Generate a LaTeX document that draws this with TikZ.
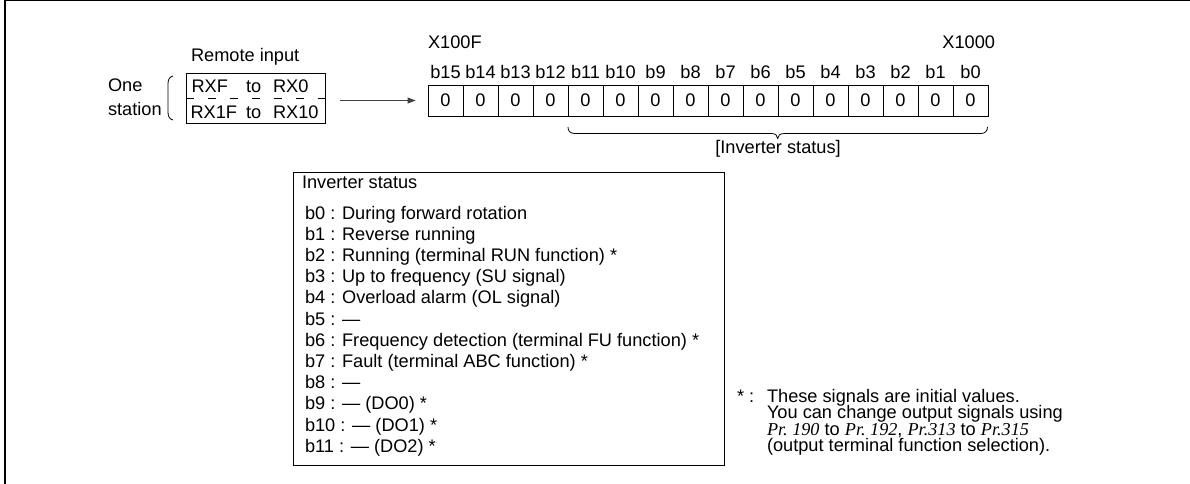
\documentclass[tikz,border=0pt]{standalone}
\usepackage{fontspec}
\setmainfont{Liberation Sans}
\newfontfamily\prfont{Liberation Serif}
\usetikzlibrary{arrows.meta}
\begin{document}
\begin{tikzpicture}[x=1pt,y=-1pt,
  font=\fontsize{18.2}{21}\selectfont,
  txt/.style={inner sep=0pt, outer sep=0pt},
  cellbox/.style={draw, line width=0.9pt, minimum width=35pt, minimum height=31pt, inner sep=0pt},
  framebox/.style={draw, line width=0.9pt, inner sep=0pt},
  arr/.style={draw=black!75, line width=0.9pt, -{Triangle[length=8pt,width=6pt]}}]
\useasboundingbox (0,0) rectangle (1190,484);
% outer frame
\draw[line width=2pt] (5,0) -- (5,484);
\draw[line width=1.2pt] (4,0.6) -- (1190,0.6);

% remote input
\node[txt, anchor=base west] (remote) at (191,62) {Remote input};
\node[txt, anchor=base west] (one) at (108,91.7) {One};
\node[txt, anchor=base west] (station) at (108,115) {station};
\draw[line width=0.8pt] (173,76) .. controls (169,77) and (168,80) .. (168,84) -- (168,112) .. controls (168,116) and (169,119) .. (173,120);
\node[framebox, minimum width=139.5pt, minimum height=50pt] (box) at (255.75,98.5) {};
\draw[line width=0.9pt, dash pattern=on 8pt off 14pt] (box.west) -- (box.east);
\node[txt, anchor=base west] (r1a) at (191.5,92.3) {RXF};
\node[txt, anchor=base west] (r1b) at (246,92.3) {to};
\node[txt, anchor=base west] (r1c) at (273,92.3) {RX0};
\node[txt, anchor=base west] (r2a) at (190.5,118.3) {RX1F};
\node[txt, anchor=base west] (r2b) at (246,118.3) {to};
\node[txt, anchor=base west] (r2c) at (273,118.3) {RX10};

% bit row
\foreach \i in {0,...,15}{
  \pgfmathtruncatemacro\bit{15-\i}
  \node[cellbox] (c\i) at (445.5+35*\i,100.5) {0};
  \node[txt, anchor=base] (l\i) at (445.5+35*\i,79) {b\bit};
}
\node[txt, anchor=base west] (xf) at (428,49) {X100F};
\node[txt, anchor=base east] (x0) at (995,49) {X1000};
\draw[arr, shorten <=14.5pt, shorten >=12pt] (box.east |- c0.west) -- (c0.west);

% brace
\draw[line width=0.8pt] (568,127) .. controls (568,131) and (570,133.5) .. (575,133.5) -- (771,133.5) .. controls (775.5,133.5) and (777.7,135.5) .. (777.7,138.5) .. controls (777.7,135.5) and (780,133.5) .. (784.5,133.5) -- (981,133.5) .. controls (985,133.5) and (987.5,131) .. (987.5,127);
\node[txt, anchor=base] (invlbl) at (778,153) {[Inverter status]};

% inverter status box
\node[framebox, minimum width=431pt, minimum height=293pt] (inv) at (508.5,318.5) {};
\node[txt, anchor=base west] (invh) at (302,188.5) {Inverter status};
\foreach \t [count=\k from 0] in {
  {b0 : During forward rotation},
  {b1 : Reverse running},
  {b2 : Running (terminal RUN function) *},
  {b3 : Up to frequency (SU signal)},
  {b4 : Overload alarm (OL signal)},
  {b5 : —},
  {b6 : Frequency detection (terminal FU function) *},
  {b7 : Fault (terminal ABC function) *},
  {b8 : —},
  {b9 : — (DO0) *},
  {b10 : — (DO1) *},
  {b11 : — (DO2) *}}{
  \node[txt, anchor=base west] (s\k) at (305,219+21.2*\k) {\t};
}

% footnote
\node[txt, anchor=base west] (fstar) at (737,402) {* :};
\node[txt, anchor=base west] (f1) at (767,402) {These signals are initial values.};
\node[txt, anchor=base west] (f2) at (767,418.5) {You can change output signals using};
\node[txt, anchor=base west] (f3) at (767,435) {{\prfont\itshape Pr.~190} to {\prfont\itshape Pr.~192}, {\prfont\itshape Pr.313} to {\prfont\itshape Pr.315}};
\node[txt, anchor=base west] (f4) at (767,451.5) {(output terminal function selection).};
\end{tikzpicture}
\end{document}
